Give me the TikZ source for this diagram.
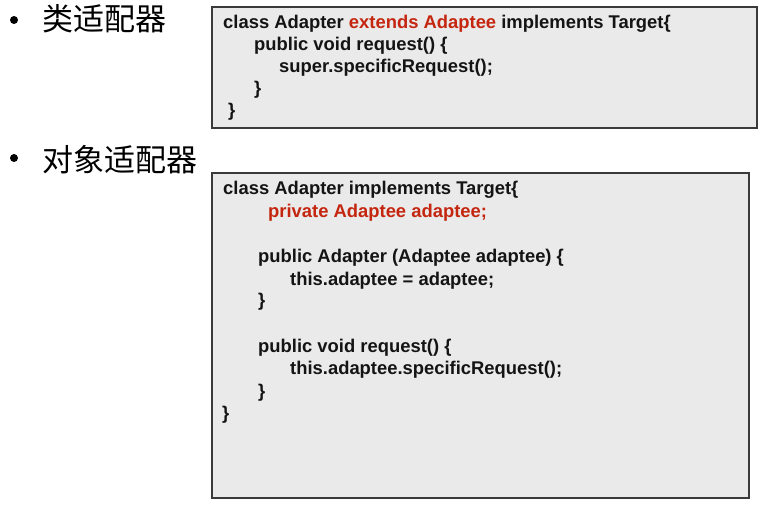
\documentclass[tikz,border=0pt]{standalone}
\usepackage{fontspec}
\setmainfont{Liberation Sans}
\newfontfamily\cjk{Noto Sans CJK SC}
\definecolor{boxfill}{HTML}{EAEAEA}
\definecolor{boxline}{HTML}{3A3A3A}
\definecolor{codered}{HTML}{C4260F}
\definecolor{codeblack}{HTML}{141414}
\tikzset{
  x=1pt,y=-1pt,
  codebox/.style={draw=boxline,line width=1.5pt,fill=boxfill},
  codeline/.style={anchor=base west,inner sep=0pt,text=codeblack,font=\bfseries\fontsize{18.4}{22}\selectfont},
  heading/.style={anchor=base west,inner sep=0pt,text=black,font=\cjk\fontsize{31}{31}\selectfont},
  bulletdot/.style={circle,fill=black,inner sep=0pt,minimum size=8pt},
}
\begin{document}
\begin{tikzpicture}
\useasboundingbox (0,0) rectangle (783,510);
\fill[white] (0,0) rectangle (783,510);
% headings
\node[bulletdot] (b1) at (14,20) {};
\node[heading] (h1) at (42,31) {类适配器};
\node[bulletdot] (b2) at (14,158) {};
\node[heading] (h2) at (42,172) {对象适配器};
% box 1
\draw[codebox] (212,7) rectangle (757,128);
\node[codeline] (a1) at (223,29) {class Adapter \textcolor{codered}{extends Adaptee} implements Target\{};
\node[codeline] (a2) at (254,51) {public void request() \{};
\node[codeline] (a3) at (279,73) {super.specificRequest();};
\node[codeline] (a4) at (254,95) {\}};
\node[codeline] (a5) at (228,117) {\}};
% box 2
\draw[codebox] (212,173) rectangle (749,498);
\node[codeline] (c1) at (223,195) {class Adapter implements Target\{};
\node[codeline,text=codered] (c2) at (268,217.5) {private Adaptee adaptee;};
\node[codeline] (c3) at (258,262.5) {public Adapter (Adaptee adaptee) \{};
\node[codeline] (c4) at (290,285) {this.adaptee = adaptee;};
\node[codeline] (c5) at (258,306) {\}};
\node[codeline] (c6) at (258,352) {public void request() \{};
\node[codeline] (c7) at (290,374.5) {this.adaptee.specificRequest();};
\node[codeline] (c8) at (258,397) {\}};
\node[codeline] (c9) at (222,419) {\}};
\end{tikzpicture}
\end{document}
